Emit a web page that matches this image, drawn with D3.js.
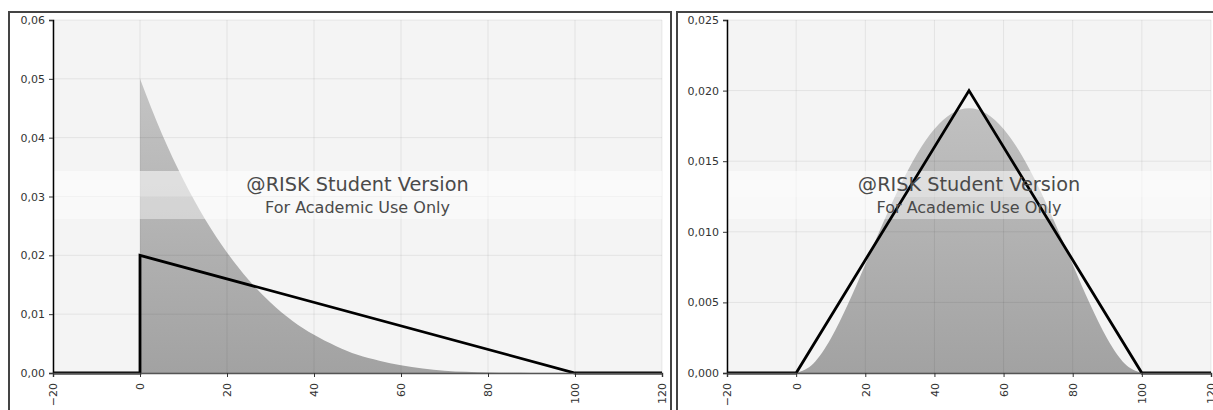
<!DOCTYPE html>
<html>
<head>
<meta charset="utf-8">
<script src="https://cdn.jsdelivr.net/npm/d3@7"></script>
<style>
  body { margin: 0; background: #fff; }
  svg { display: block; }
  .tick text { font-family: "DejaVu Sans", Verdana, sans-serif; font-size: 11px; fill: #333; }
  .wm1 { font-family: "DejaVu Sans", sans-serif; font-size: 19.3px; fill: #4a4a4a; }
  .wm2 { font-family: "DejaVu Sans", sans-serif; font-size: 16px; fill: #4a4a4a; }
</style>
</head>
<body>
<svg width="1213" height="410"></svg>
<script>
// x positions of the sampled density curves
var xs = [0, 5, 10, 15, 20, 25, 30, 35, 40, 45, 50, 55, 60, 65, 70, 75, 80, 85, 90, 95, 100];

// left chart: skewed shaded density, and the triangular outline
var leftDensity = [0.0500, 0.0407, 0.0328, 0.0261, 0.0205, 0.0158, 0.0120, 0.0089, 0.0065, 0.0046,
                   0.0031, 0.0021, 0.0013, 0.00075, 0.0004, 0.0002, 0.00008, 0.00003, 0.00001, 0, 0];
var leftLineX = [-20, 0, 0, 100, 120];
var leftLineY = [0, 0, 0.02, 0, 0];

// right chart: symmetric shaded density, and the triangular outline
var rightDensity = [0, 0.00068, 0.00243, 0.00488, 0.00768, 0.01055, 0.01323, 0.01553, 0.01728, 0.01838,
                    0.01875, 0.01838, 0.01728, 0.01553, 0.01323, 0.01055, 0.00768, 0.00488, 0.00243, 0.00068, 0];
var rightLineX = [-20, 0, 50, 100, 120];
var rightLineY = [0, 0, 0.02, 0, 0];

var xTicks = [-20, 0, 20, 40, 60, 80, 100, 120];
var leftYTicks = [0, 0.01, 0.02, 0.03, 0.04, 0.05, 0.06];
var rightYTicks = [0, 0.005, 0.010, 0.015, 0.020, 0.025];

var svg = d3.select('svg');

var defs = svg.append('defs');
var grad = defs.append('linearGradient')
    .attr('id', 'shade')
    .attr('gradientUnits', 'userSpaceOnUse')
    .attr('x1', 0).attr('y1', 20).attr('x2', 0).attr('y2', 373);
grad.append('stop').attr('offset', '0%').attr('stop-color', '#cbcbcb');
grad.append('stop').attr('offset', '100%').attr('stop-color', '#a2a2a2');

// frames
svg.append('rect').attr('x', 9).attr('y', 12).attr('width', 662).attr('height', 420)
    .attr('fill', 'none').attr('stroke', '#444').attr('stroke-width', 2);
svg.append('rect').attr('x', 677).attr('y', 12).attr('width', 560).attr('height', 420)
    .attr('fill', 'none').attr('stroke', '#444').attr('stroke-width', 2);

function drawPanel(opt) {
    var x = d3.scaleLinear().domain([-20, 120]).range([opt.left, opt.right]);
    var y = d3.scaleLinear().domain([0, opt.yMax]).range([373, 20]);
    var g = svg.append('g');

    g.append('rect')
        .attr('x', x(-20)).attr('y', y(opt.yMax))
        .attr('width', x(120) - x(-20)).attr('height', y(0) - y(opt.yMax))
        .attr('fill', '#f4f4f4');

    // shaded density
    var area = d3.area()
        .x(function(d, i) { return x(xs[i]); })
        .y0(y(0))
        .y1(function(d) { return y(d); })
        .curve(opt.curve);
    g.append('path').datum(opt.density)
        .attr('d', area)
        .attr('fill', 'url(#shade)');

    // grid
    g.selectAll('.vgrid').data(xTicks).enter().append('line')
        .attr('x1', function(d) { return x(d); }).attr('x2', function(d) { return x(d); })
        .attr('y1', y(opt.yMax)).attr('y2', y(0))
        .attr('stroke', 'rgba(0,0,0,0.07)');
    g.selectAll('.hgrid').data(opt.yTicks).enter().append('line')
        .attr('x1', x(-20)).attr('x2', x(120))
        .attr('y1', function(d) { return y(d); }).attr('y2', function(d) { return y(d); })
        .attr('stroke', 'rgba(0,0,0,0.07)');

    // watermark band
    g.append('rect').attr('x', x(-20)).attr('y', 171).attr('width', x(120) - x(-20)).attr('height', 26)
        .attr('fill', '#fff').attr('opacity', 0.55);
    g.append('rect').attr('x', x(-20)).attr('y', 197).attr('width', x(120) - x(-20)).attr('height', 22)
        .attr('fill', '#fff').attr('opacity', 0.42);

    // outline
    var line = d3.line()
        .x(function(d, i) { return x(opt.lineX[i]); })
        .y(function(d) { return y(d); });
    g.append('path').datum(opt.lineY)
        .attr('d', line)
        .attr('fill', 'none')
        .attr('stroke', '#000')
        .attr('stroke-width', 2.8)
        .attr('stroke-linejoin', 'miter');

    var cx = (x(-20) + x(120)) / 2;
    g.append('text').attr('class', 'wm1').attr('x', cx).attr('y', 191)
        .attr('text-anchor', 'middle').text('@RISK Student Version');
    g.append('text').attr('class', 'wm2').attr('x', cx).attr('y', 213)
        .attr('text-anchor', 'middle').text('For Academic Use Only');

    // axes
    var yAxis = d3.axisLeft(y).tickValues(opt.yTicks).tickSize(4).tickPadding(4)
        .tickFormat(function(d) { return d3.format(opt.fmt)(d).replace('.', ','); });
    var ya = g.append('g').attr('transform', 'translate(' + x(-20) + ',0)').call(yAxis);
    ya.select('.domain').attr('stroke', '#000').attr('stroke-width', 1.5);
    ya.selectAll('.tick line').attr('stroke', '#333');
    ya.selectAll('.tick text').attr('dy', '0.32em');

    var xAxis = d3.axisBottom(x).tickValues(xTicks).tickSize(4).tickFormat(d3.format('d'));
    var xa = g.append('g').attr('transform', 'translate(0,' + y(0) + ')').call(xAxis);
    xa.select('.domain').attr('stroke', '#555').attr('stroke-width', 1.5);
    xa.selectAll('.tick line').attr('stroke', '#333');
    xa.selectAll('.tick text')
        .attr('transform', 'rotate(-90)')
        .attr('text-anchor', 'end')
        .attr('x', -10).attr('y', 0).attr('dy', '0.35em');
}

drawPanel({
    left: 53, right: 662, yMax: 0.06, yTicks: leftYTicks, fmt: '.2f',
    density: leftDensity, lineX: leftLineX, lineY: leftLineY, curve: d3.curveMonotoneX
});
drawPanel({
    left: 727, right: 1211, yMax: 0.025, yTicks: rightYTicks, fmt: '.3f',
    density: rightDensity, lineX: rightLineX, lineY: rightLineY, curve: d3.curveMonotoneX
});
</script>
</body>
</html>
